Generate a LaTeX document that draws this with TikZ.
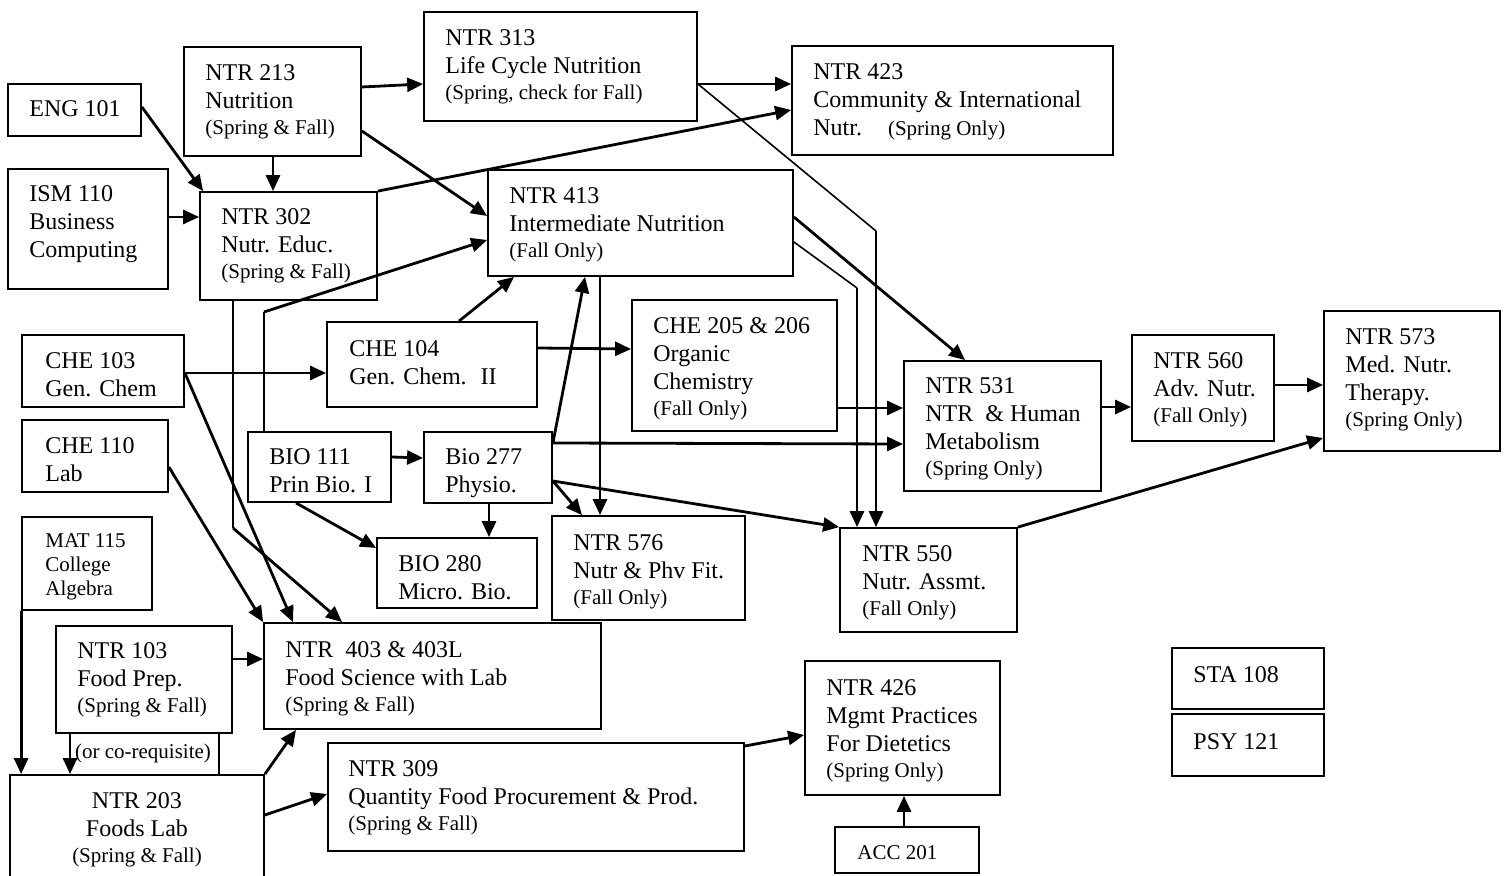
\documentclass[tikz,border=0pt]{standalone}
\usepackage{fontspec}
\setmainfont{Liberation Serif}
\usetikzlibrary{arrows.meta,fit}
\newcommand\smtxt{\fontsize{10.5}{12}\selectfont}
\begin{document}
\begin{tikzpicture}[x=0.5pt,y=-0.5pt,
  box/.style={draw, line width=0.9pt, inner sep=0pt},
  txt/.style={inner sep=0pt, anchor=north west, align=left, font=\fontsize{12}{14}\selectfont},
  conn/.style={line width=1.4pt, -{Triangle[length=8pt,width=7pt]}},
  thinline/.style={line width=0.8pt},
  ]
\useasboundingbox (0,0) rectangle (1505,876);

% ---------- boxes ----------
\node[box, fit={(424,12) (697,121)}] (n313) {};
\node[txt] (n313t) at (445,29) {NTR 313\\Life Cycle Nutrition\\[-1pt]{\smtxt (Spring, check for Fall)}};

\node[box, fit={(184,47) (361,156)}] (n213) {};
\node[txt] (n213t) at (205,64) {NTR 213\\Nutrition\\[-1pt]{\smtxt (Spring \& Fall)}};

\node[box, fit={(8,84) (141,136)}] (eng) {};
\node[txt] (engt) at (29,100) {ENG 101};

\node[box, fit={(792,46) (1113,155)}] (n423) {};
\node[txt] (n423t) at (813,63) {NTR 423\\Community \& International\\Nutr.\hspace{13pt}{\smtxt (Spring Only)}};

\node[box, fit={(8,169) (168,289)}] (ism) {};
\node[txt] (ismt) at (29,185) {ISM 110\\Business\\Computing};

\node[box, fit={(200,192) (377,300)}] (n302) {};
\node[txt] (n302t) at (221,208) {NTR 302\\Nutr. Educ.\\[-1pt]{\smtxt (Spring \& Fall)}};

\node[box, fit={(488,170) (793,276)}] (n413) {};
\node[txt] (n413t) at (509,187) {NTR 413\\Intermediate Nutrition\\[-1pt]{\smtxt (Fall Only)}};

\node[box, fit={(22,335) (184,407)}] (che103) {};
\node[txt] (che103t) at (45,352) {CHE 103\\Gen. Chem};

\node[box, fit={(327,322) (537,407)}] (che104) {};
\node[txt] (che104t) at (349,340) {CHE 104\\Gen. Chem.~ II};

\node[box, fit={(632,300) (837,431)}] (che205) {};
\node[txt] (che205t) at (653,317) {CHE 205 \& 206\\Organic\\Chemistry\\[-1pt]{\smtxt (Fall Only)}};

\node[box, fit={(904,361) (1101,491)}] (n531) {};
\node[txt] (n531t) at (925,377) {NTR 531\\NTR~ \& Human\\Metabolism\\[-1pt]{\smtxt (Spring Only)}};

\node[box, fit={(1132,335) (1274,441)}] (n560) {};
\node[txt] (n560t) at (1153,352) {NTR 560\\Adv. Nutr.\\[-1pt]{\smtxt (Fall Only)}};

\node[box, fit={(1324,311) (1500,451)}] (n573) {};
\node[txt] (n573t) at (1345,328) {NTR 573\\Med. Nutr.\\Therapy.\\[-1pt]{\smtxt (Spring Only)}};

\node[box, fit={(22,420) (168,492)}] (che110) {};
\node[txt] (che110t) at (45,437) {CHE 110\\Lab};

\node[box, fit={(248,432) (391,502)}] (bio111) {};
\node[txt] (bio111t) at (269,448) {BIO 111\\Prin Bio. I};

\node[box, fit={(424,432) (552,503)}] (bio277) {};
\node[txt] (bio277t) at (445,448) {Bio 277\\Physio.};

\node[box, fit={(22,517) (152,610)}] (mat115) {};
\node[txt, font=\smtxt] (mat115t) at (45,533) {MAT 115\\College\\Algebra};

\node[box, fit={(377,538) (537,608)}] (bio280) {};
\node[txt] (bio280t) at (398,555) {BIO 280\\Micro. Bio.};

\node[box, fit={(552,516) (745,620)}] (n576) {};
\node[txt] (n576t) at (573,534) {NTR 576\\Nutr \& Phv Fit.\\[-1pt]{\smtxt (Fall Only)}};

\node[box, fit={(840,528) (1017,632)}] (n550) {};
\node[txt] (n550t) at (862,545) {NTR 550\\Nutr. Assmt.\\[-1pt]{\smtxt (Fall Only)}};

\node[box, fit={(56,626) (232,733)}] (n103) {};
\node[txt] (n103t) at (77,642) {NTR 103\\Food Prep.\\[-1pt]{\smtxt (Spring \& Fall)}};

\node[box, fit={(264,623) (601,729)}] (n403) {};
\node[txt] (n403t) at (285,641) {NTR~ 403 \& 403L\\Food Science with Lab\\[-1pt]{\smtxt (Spring \& Fall)}};

\node[box, fit={(805,661) (1000,795)}] (n426) {};
\node[txt] (n426t) at (826,679) {NTR 426\\Mgmt Practices\\For Dietetics\\[-1pt]{\smtxt (Spring Only)}};

\node[box, fit={(1172,648) (1324,709)}] (sta108) {};
\node[txt] (sta108t) at (1193,666) {STA 108};

\node[box, fit={(1172,714) (1324,776)}] (psy121) {};
\node[txt] (psy121t) at (1193,733) {PSY 121};

\node[box, fit={(328,743) (744,851)}] (n309) {};
\node[txt] (n309t) at (348,760) {NTR 309\\Quantity Food Procurement \& Prod.\\[-1pt]{\smtxt (Spring \& Fall)}};

\node[box, fit={(10,775) (264,886)}] (n203) {};
\node[txt, anchor=north, align=center] (n203t) at (137,792) {NTR 203\\Foods Lab\\[-1pt]{\smtxt (Spring \& Fall)}};

\node[box, fit={(835,827) (979,873)}] (acc201) {};
\node[txt, font=\smtxt] (acc201t) at (857,845) {ACC 201};

\node[inner sep=0pt, font=\smtxt] (coreq) at (143,753) {(or co-requisite)};

% ---------- bend points ----------
\coordinate (b313) at (876,231);
\coordinate (b413) at (857,288);
\coordinate (b111) at (264,312);
\coordinate (b302) at (233,528);

% ---------- connectors ----------
\draw[conn] (n213.east|-0,87) -- (n313.west|-0,84);
\draw[conn] (eng.east|-0,107) -- ([xshift=2pt]n302.north west);
\draw[conn] (273,0|-n213.south) -- (273,0|-n302.north);
\draw[conn] (ism.east|-0,217) -- (n302.west|-0,217);
\draw[conn] (n213.east|-0,131) -- (n413.west|-0,216);
\draw[conn] (n302.north east) -- (n423.west|-0,110);
\draw[conn] (n313.east|-0,84) -- (n423.west|-0,84);
\draw[thinline] (n313.east|-0,84) -- (b313);
\draw[conn] (b313) -- (b313|-n550.north);
\draw[conn] (n413.east|-0,217) -- (965,0|-n531.north);
\draw[thinline] (n413.east|-0,242) -- (b413);
\draw[conn] (b413) -- (b413|-n550.north);
\draw[thinline] (264,0|-bio111.north) -- (b111);
\draw[conn] (b111) -- (n413.west|-0,240);
\draw[thinline] (233,0|-n302.south) -- (b302);
\draw[conn] (b302) -- (342,0|-n403.north);
\draw[conn] (che103.east|-0,373) -- (che104.west|-0,373);
\draw[conn] (che103.east|-0,373) -- (293,0|-n403.north);
\draw[conn] (che110.east|-0,467) -- (n403.north west);
\draw[conn] (459,0|-che104.north) -- (514,0|-n413.south);
\draw[conn] (che104.east|-0,348) -- (che205.west|-0,349);
\draw[conn] (bio277.east|-0,443) -- (585,0|-n413.south);
\draw[conn] (600,0|-n413.south) -- (600,0|-n576.north);
\draw[conn] (bio277.east|-0,443) -- (n531.west|-0,444);
\draw[conn] (che205.east|-0,408) -- (n531.west|-0,408);
\draw[conn] (bio277.east|-0,481) -- (n550.north west);
\draw[conn] (bio277.east|-0,481) -- (582,0|-n576.north);
\draw[conn] (489,0|-bio277.south) -- (489,0|-bio280.north);
\draw[conn] (296,0|-bio111.south) -- (bio280.west|-0,548);
\draw[conn] (bio111.east|-0,457) -- (bio277.west|-0,458);
\draw[conn] (n531.east|-0,407) -- (n560.west|-0,407);
\draw[conn] (n560.east|-0,385) -- (n573.west|-0,385);
\draw[conn] (n550.north east) -- (n573.west|-0,438);
\draw[conn] (n103.east|-0,659) -- (n403.west|-0,659);
\draw[conn] (mat115.south west) -- (mat115.south west|-n203.north);
\draw[conn] (70,0|-n103.south) -- (70,0|-n203.north);
\draw[thinline] (219,0|-n103.south) -- (219,0|-n203.north);
\draw[conn] (n203.north east) -- (296,0|-n403.south);
\draw[conn] (n203.east|-0,815) -- (n309.west|-0,794);
\draw[conn] (n309.east|-0,746) -- (n426.west|-0,735);
\draw[conn] (904,0|-acc201.north) -- (904,0|-n426.south);
\end{tikzpicture}
\end{document}
